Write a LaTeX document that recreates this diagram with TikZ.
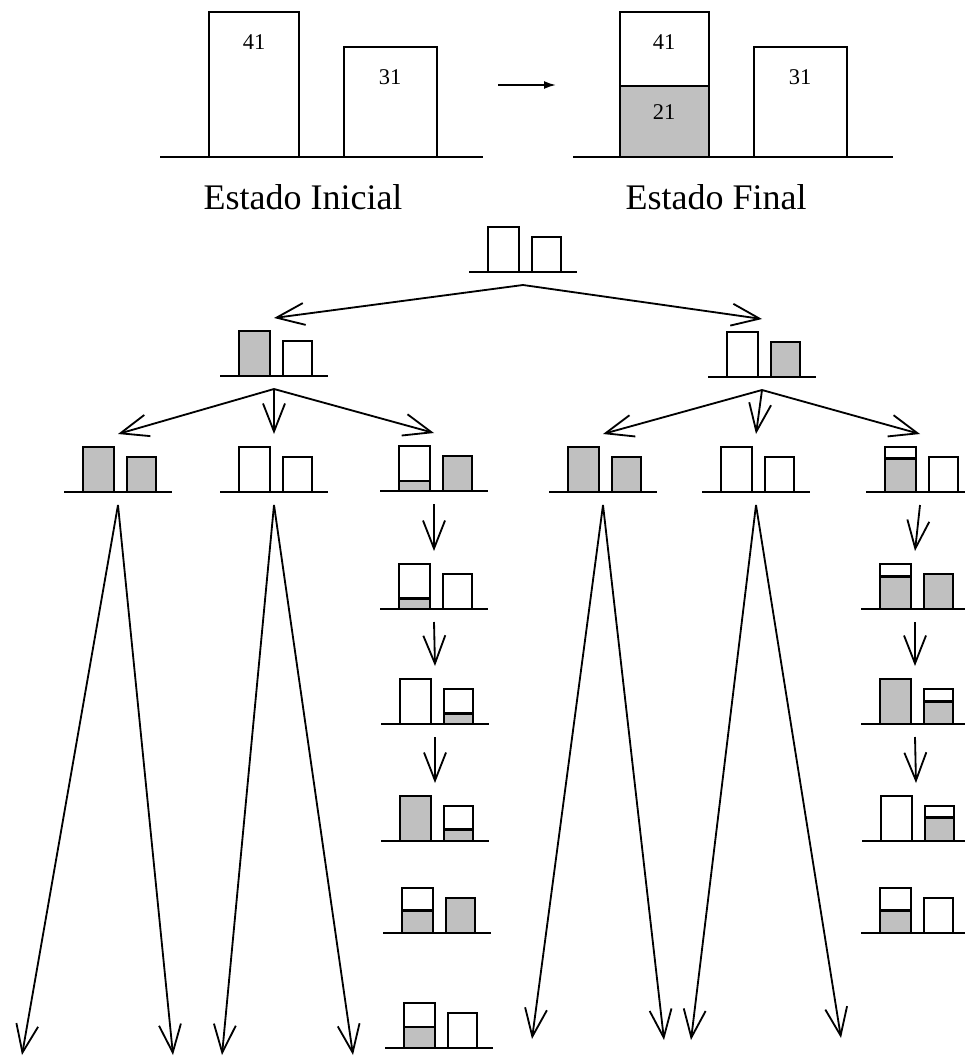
\documentclass[tikz,border=0pt]{standalone}
\usepackage{fontspec}
\setmainfont{Liberation Serif}
\usetikzlibrary{arrows.meta}
\definecolor{gris}{RGB}{192,192,192}

% a small state: name, x of the ground, y of the ground, level of jug A, level of jug B
\newcommand{\estado}[5]{%
  \draw[suelo] (#2,#3) -- ++(108,0);
  \draw[jarra,fill=gris] (#2+19,#3) rectangle ++(31,-45*#4);
  \draw[jarra] (#2+19,#3) rectangle ++(31,-45);
  \draw[jarra,fill=gris] (#2+63,#3) rectangle ++(29,-35*#5);
  \draw[jarra] (#2+63,#3) rectangle ++(29,-35);
  \coordinate (#1-n) at (#2+54,#3-58);
  \coordinate (#1-s) at (#2+54,#3+13);
}

\begin{document}
\begin{tikzpicture}[x=0.025cm,y=-0.025cm,
    jarra/.style={line width=1.9pt},
    suelo/.style={line width=1.6pt},
    flecha/.style={line width=1.3pt,-{Straight Barb[length=0.7cm,width=0.55cm]}},
    paso/.style={line width=1.3pt,-{Latex[length=0.3cm,width=0.2cm]}},
    num/.style={font=\fontsize{16}{18}\selectfont},
    titulo/.style={font=\fontsize{25.6}{30}\selectfont}]
  \useasboundingbox (0,0) rectangle (965,1057);

  % initial state, big
  \draw[suelo] (160,157) -- (483,157);
  \draw[jarra] (209,157) rectangle (299,12);
  \draw[jarra] (344,157) rectangle (437,47);
  \node[num] (a0) at (254,42) {41};
  \node[num] (b0) at (390,77) {31};
  \node[titulo] (ini) at (303,197) {Estado Inicial};

  \coordinate (p0) at (498,85);
  \coordinate (p1) at (556,85);
  \draw[paso] (p0) -- (p1);

  % final state, big
  \draw[suelo] (573,157) -- (893,157);
  \draw[jarra,fill=gris] (620,157) rectangle (709,86);
  \draw[jarra] (620,86) rectangle (709,12);
  \draw[jarra] (754,157) rectangle (847,47);
  \node[num] (a1) at (664,42) {41};
  \node[num] (a2) at (664,112) {21};
  \node[num] (b1) at (800,77) {31};
  \node[titulo] (fin) at (716,197) {Estado Final};

  % search tree
  \estado{R0}{469}{272}{0}{0}
  \estado{L1}{220}{376}{1}{0}
  \estado{R1}{708}{377}{0}{1}
  \estado{E1}{64}{492}{1}{1}
  \estado{E2}{220}{492}{0}{0}
  \estado{E3}{380}{491}{0.22}{1}
  \estado{E4}{549}{492}{1}{1}
  \estado{E5}{702}{492}{0}{0}
  \estado{E6}{866}{492}{0.75}{0}
  \estado{M1}{380}{609}{0.23}{0}
  \estado{M2}{381}{724}{0}{0.3}
  \estado{M3}{381}{841}{1}{0.33}
  \estado{M4}{383}{933}{0.5}{1}
  \estado{M5}{385}{1048}{0.47}{0}
  \estado{N1}{861}{609}{0.72}{1}
  \estado{N2}{861}{724}{1}{0.65}
  \estado{N3}{862}{841}{0}{0.67}
  \estado{N4}{861}{933}{0.5}{0}

  \draw[flecha] (R0-s) -- (L1-n);
  \draw[flecha] (R0-s) -- (R1-n);
  \foreach \e in {E1,E2,E3} \draw[flecha] (L1-s) -- (\e-n);
  \foreach \e in {E4,E5,E6} \draw[flecha] (R1-s) -- (\e-n);

  \draw[flecha] (E3-s) -- (M1-n);
  \draw[flecha] (M1-s) -- (M2-n);
  \draw[flecha] (M2-s) -- (M3-n);
  \draw[flecha] (E6-s) -- (N1-n);
  \draw[flecha] (N1-s) -- (N2-n);
  \draw[flecha] (N2-s) -- (N3-n);

  % long branches going on below
  \coordinate (f1) at (22,1055);
  \coordinate (f2) at (173,1055);
  \coordinate (f3) at (222,1055);
  \coordinate (f4) at (353,1055);
  \coordinate (f5) at (532,1039);
  \coordinate (f6) at (664,1040);
  \coordinate (f7) at (691,1040);
  \coordinate (f8) at (841,1038);
  \draw[flecha] (E1-s) -- (f1);
  \draw[flecha] (E1-s) -- (f2);
  \draw[flecha] (E2-s) -- (f3);
  \draw[flecha] (E2-s) -- (f4);
  \draw[flecha] (E4-s) -- (f5);
  \draw[flecha] (E4-s) -- (f6);
  \draw[flecha] (E5-s) -- (f7);
  \draw[flecha] (E5-s) -- (f8);
\end{tikzpicture}
\end{document}
